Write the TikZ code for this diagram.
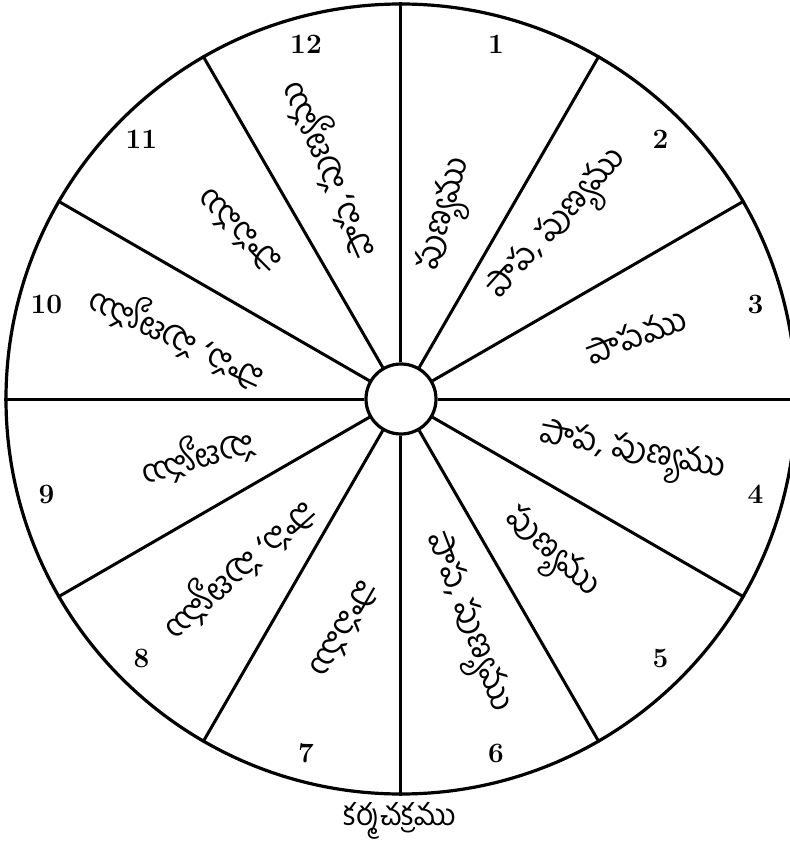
\documentclass[tikz,border=0pt]{standalone}
\usepackage{fontspec}
\newfontfamily\tel[Script=Telugu]{Hind Guntur}
\begin{document}
\begin{tikzpicture}[x=1pt,y=1pt,
  ring/.style={circle, draw, line width=3.2pt, inner sep=0pt, fill=none},
  spoke/.style={line width=3pt},
  num/.style={font=\fontsize{28}{28}\selectfont\bfseries, inner sep=0pt},
  lbl/.style={font=\tel\fontsize{33}{33}\selectfont, inner sep=0pt},
  captext/.style={font=\tel\fontsize{30}{30}\selectfont, inner sep=0pt}]
\useasboundingbox (-401,-448) rectangle (389,399);
\node[ring, minimum size=70pt] (hub) at (0,0) {};
\node[ring, minimum size=790pt] (rim) at (0,0) {};
\foreach \a in {0,30,...,330} \draw[spoke] (hub.\a) -- (rim.\a);
\foreach \n [count=\i from 0] in {1,...,12}
  \node[num] (n\n) at ({75-30*\i}:367) {\n};
\node[lbl, rotate=74]  (t1)  at (47,184)    {పుణ్యము};
\node[lbl, rotate=48]  (t2)  at (159,173)   {పాప, పుణ్యము};
\node[lbl, rotate=21]  (t3)  at (235,64)    {పాపము};
\node[lbl, rotate=-11] (t4)  at (231,-56)   {పాప, పుణ్యము};
\node[lbl, rotate=-42] (t5)  at (149,-156)  {పుణ్యము};
\node[lbl, rotate=-69] (t6)  at (64,-224)   {పాప, పుణ్యము};
\node[lbl, rotate=240] (t7)  at (-56,-231)  {పాపము};
\node[lbl, rotate=222] (t8)  at (-164,-168) {పాప, పుణ్యము};
\node[lbl, rotate=196] (t9)  at (-204,-56)  {పుణ్యము};
\node[lbl, rotate=155] (t10) at (-223,64)   {పాప, పుణ్యము};
\node[lbl, rotate=135] (t11) at (-163,167)  {పాపము};
\node[lbl, rotate=114] (t12) at (-68,231)   {పాప, పుణ్యము};
\node[captext] (caption) at (-1,-422) {కర్మచక్రము};
\end{tikzpicture}
\end{document}
